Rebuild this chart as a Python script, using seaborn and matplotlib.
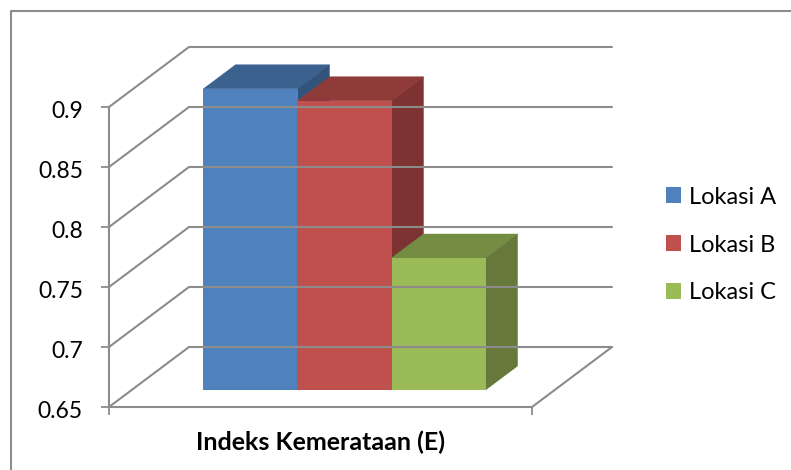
import pandas as pd
import seaborn as sns
import matplotlib.pyplot as plt
from matplotlib.lines import Line2D
from matplotlib.patches import Polygon
from matplotlib.transforms import Affine2D

kategori = ["Indeks Kemerataan (E)"]
lokasi = ["Lokasi A", "Lokasi B", "Lokasi C"]
nilai = [0.901, 0.891, 0.76]
y_ticks = [0.65, 0.7, 0.75, 0.8, 0.85, 0.9]
y_labels = ["0.65", "0.7", "0.75", "0.8", "0.85", "0.9"]

warna_depan = ["#4F81BD", "#C0504D", "#9BBB59"]
warna_atas = ["#3B618F", "#8F3B39", "#748D43"]
warna_sisi = ["#32537B", "#7D3331", "#66793A"]
abu = "#8C8C8C"

W, H = 791, 470

sns.set_style("white")
plt.rcParams["font.family"] = ["Lato", "DejaVu Sans"]

fig = plt.figure(figsize=(W / 100, H / 100), dpi=100)

# front plane of the chart box, holds the axis and labels
ax = fig.add_axes([109 / W, (H - 407) / H, 423 / W, 300 / H])
ax.set_xlim(-0.5, 0.5)
ax.set_ylim(0.65, 0.9)
for s in ["top", "right"]:
    ax.spines[s].set_visible(False)
for s in ["left", "bottom"]:
    ax.spines[s].set_color(abu)
    ax.spines[s].set_linewidth(1.5)
ax.patch.set_alpha(0)
ax.set_yticks(y_ticks, y_labels)
ax.set_xticks([-0.5, 0.5], ["", ""])
ax.tick_params(axis="both", length=5.8, width=1.3, color=abu, labelcolor="black", left=True, bottom=True)
ax.tick_params(axis="y", labelsize=16.5, pad=13)
for lab in ax.get_yticklabels():
    lab.set_transform(lab.get_transform() + Affine2D().translate(0, -2))
ax.set_xlabel(kategori[0], fontsize=18, fontweight="bold", color="black", labelpad=8)

# bars sit part way into the depth of the box
df = pd.DataFrame({"indeks": kategori * 3, "lokasi": lokasi, "nilai": nilai})
ax_bar = fig.add_axes([133 / W, (H - 390) / H, 423 / W, 360 / H])
sns.barplot(data=df, x="indeks", y="nilai", hue="lokasi", palette=warna_depan, saturation=1,
            width=0.667, gap=0, linewidth=0, ax=ax_bar)
ax_bar.set_xlim(-0.5, 0.5)
ax_bar.set_ylim(0.65, 0.95)
handles, labels = ax_bar.get_legend_handles_labels()
ax_bar.get_legend().remove()
ax_bar.set_axis_off()

# walls and floor
kedalaman = (80, 60)
lebar = ax.transData.transform((0.5, 0.65))[0] - ax.transData.transform((-0.5, 0.65))[0]
for t in y_ticks:
    x0, y0 = ax.transData.transform((-0.5, t))
    xb, yb = x0 + kedalaman[0], y0 + kedalaman[1]
    fig.add_artist(Line2D([x0, xb, xb + lebar], [y0, yb, yb], transform=None, color=abu, lw=1.5, zorder=0.5))
x0, y0 = ax.transData.transform((0.5, 0.65))
fig.add_artist(Line2D([x0, x0 + kedalaman[0]], [y0, y0 + kedalaman[1]], transform=None, color=abu, lw=1.5, zorder=0.5))

# 3d faces of the bars
geser = Affine2D().translate(32, 24)
for i, cont in enumerate(ax_bar.containers):
    bar = cont[0]
    xa, xb = bar.get_x(), bar.get_x() + bar.get_width()
    top = bar.get_height()
    base = ax_bar.get_ylim()[0]
    to_px = ax_bar.transData.transform
    ka, kb = to_px((xa, top)), to_px((xb, top))
    kc = to_px((xb, base))
    d = geser.transform
    ax_bar.add_patch(Polygon([ka, kb, d(kb), d(ka)], closed=True, transform=None, facecolor=warna_atas[i],
                             edgecolor=warna_atas[i], lw=0.3, zorder=2 + i, clip_on=False))
    ax_bar.add_patch(Polygon([kb, kc, d(kc), d(kb)], closed=True, transform=None, facecolor=warna_sisi[i],
                             edgecolor=warna_sisi[i], lw=0.3, zorder=2 + i, clip_on=False))
    bar.set_zorder(2.5 + i)

fig.legend(handles, labels, loc="center left", bbox_to_anchor=(666 / W, (H - 245) / H), frameon=False,
           fontsize=17, labelcolor="black", handlelength=0.64, handleheight=0.64, handletextpad=0.32,
           labelspacing=1.14, borderpad=0, borderaxespad=0)

# chart frame
fig.add_artist(Line2D([11 / W, 11 / W, 1], [0, (H - 11) / H, (H - 11) / H], color=abu, lw=1.5))

fig.savefig("out.png", dpi=100)
